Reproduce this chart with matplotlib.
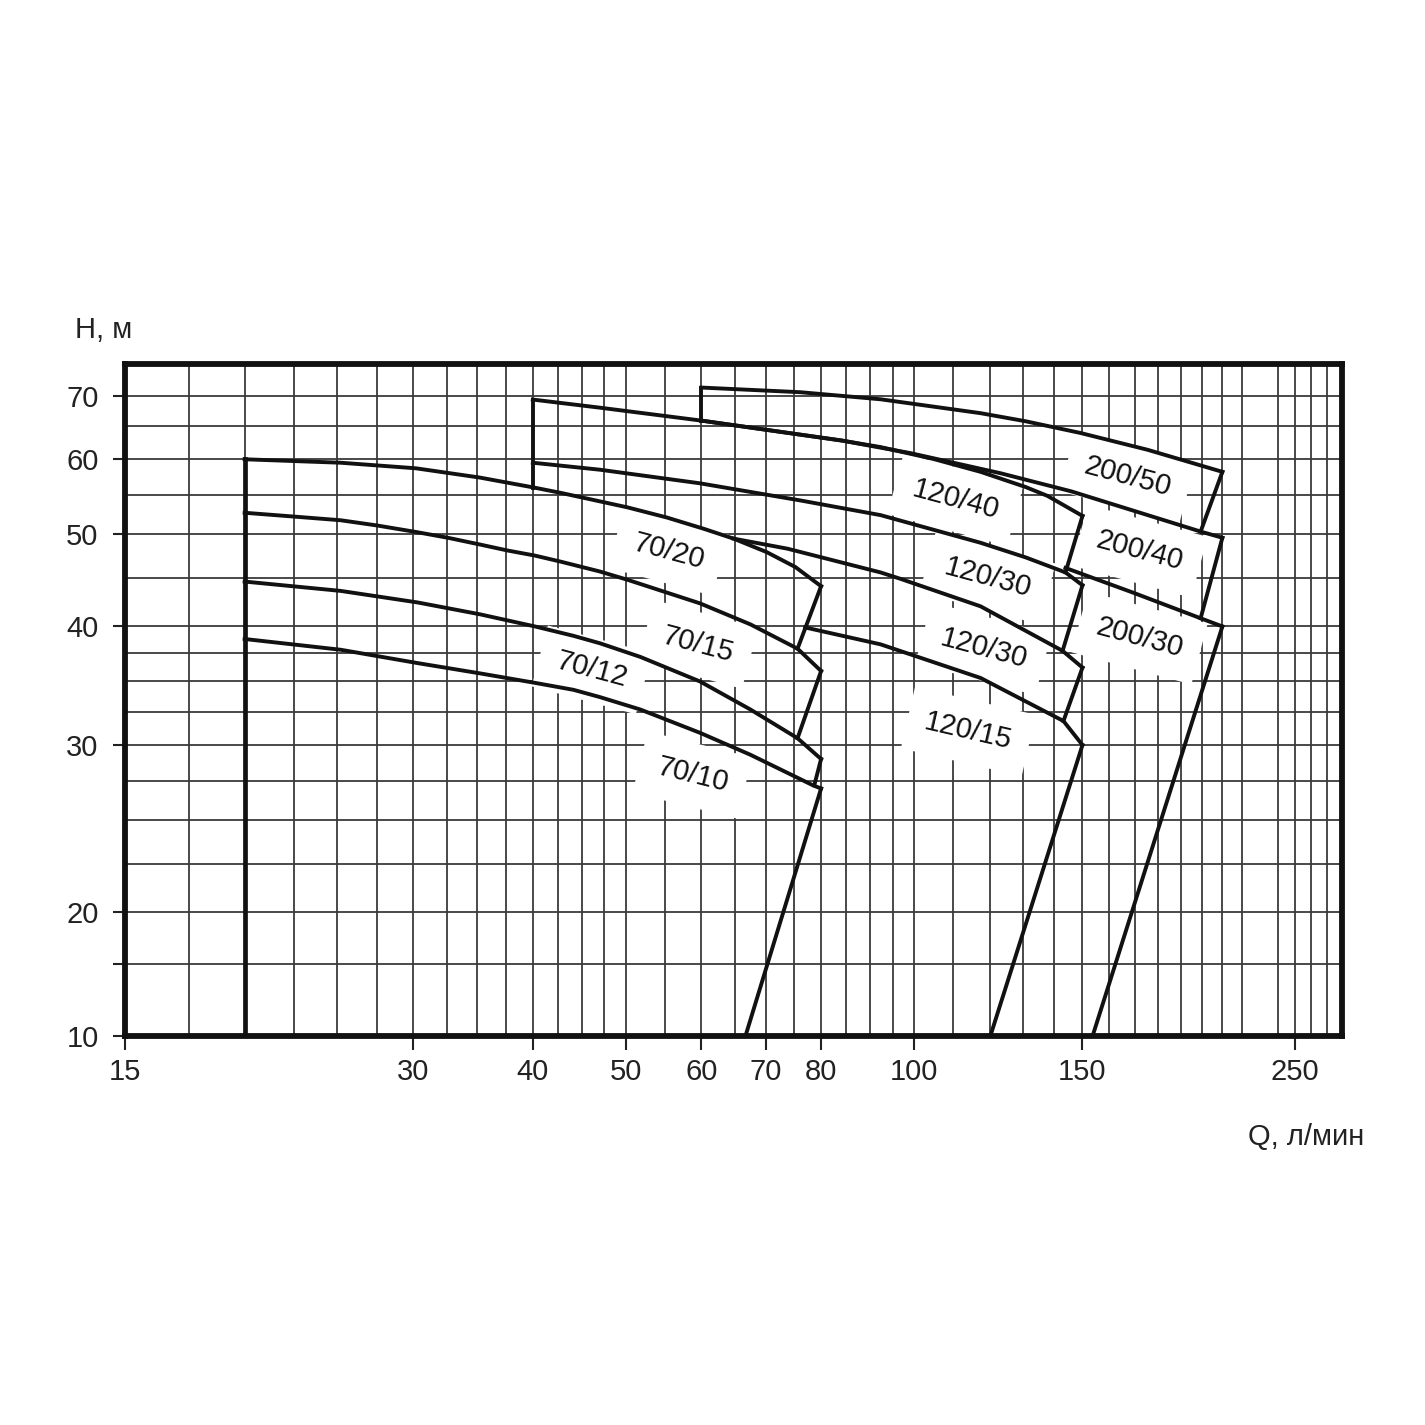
import numpy as np
import matplotlib
matplotlib.use("Agg")
import matplotlib.pyplot as plt

plt.rcParams['font.family'] = ['Liberation Sans', 'DejaVu Sans']

# ---------------- data (Q in l/min, H in m) ----------------
x_major = [15, 30, 40, 50, 60, 70, 80, 100, 150, 250]
x_minor = [17.5, 20, 22.5, 25, 27.5, 32.5, 35, 37.5, 42.5, 45, 47.5,
           55, 65, 75, 85, 90, 95, 110, 120, 130, 140, 160, 170, 180,
           190, 200, 210, 220, 240, 260, 270]
y_major = [10, 15, 20, 30, 40, 50, 60, 70]
y_major_labels = ['10', '', '20', '30', '40', '50', '60', '70']
y_minor = [22.5, 25, 27.5, 32.5, 35, 37.5, 45, 55, 65]

# pump 70 family
q_70_v = [20, 20]
h_70_v = [10, 60]
q_70_20 = [20, 25.2, 30.2, 35.2, 40.2, 42.8, 50.2, 55.2, 60.3, 64.8, 70.2, 75.2, 80]
h_70_20 = [60.0, 59.5, 58.7, 57.4, 56.0, 55.3, 53.4, 52.1, 50.7, 49.5, 47.9, 46.2, 44.1]
q_70_15 = [20, 22.6, 25.2, 27.5, 30.2, 32.6, 35.2, 37.6, 40.2, 42.8, 47.0, 50.2, 59.8, 67.5, 75.6, 80]
h_70_15 = [52.7, 52.2, 51.75, 51.1, 50.3, 49.6, 48.8, 48.1, 47.5, 46.8, 45.7, 44.8, 42.3, 40.2, 37.9, 35.9]
q_70_12 = [20, 25.2, 30.3, 35.2, 40.2, 44.1, 47.0, 51.8, 59.8, 67.5, 75.6, 80]
h_70_12 = [44.6, 43.6, 42.4, 41.2, 40.0, 39.1, 38.4, 37.15, 35.0, 32.7, 30.5, 29.0]
q_70_10 = [20, 25.2, 30.3, 35.2, 40.1, 44.1, 47.0, 51.8, 59.8, 67.5, 78.5, 80]
h_70_10 = [38.8, 37.8, 36.6, 35.7, 34.9, 34.3, 33.7, 32.7, 30.9, 29.3, 27.2, 27.0]
q_70_edge = [[80, 75.6], [80, 75.6], [80, 78.7], [80, 66.7]]
h_70_edge = [[44.1, 37.9], [35.9, 30.5], [29.0, 27.2], [27.0, 10]]

# pump 120 family
q_120_v = [40, 40]
h_120_v = [56.0, 69.35]
q_120_40 = [40, 47.0, 60, 84, 92.3, 104.8, 117.4, 130.8, 137.9, 150]
h_120_40 = [69.35, 68.0, 65.9, 62.8, 61.8, 60.05, 58.2, 56.1, 54.9, 52.3]
q_120_30a = [40, 47.0, 59.8, 76.1, 92.3, 117.4, 130.8, 144.0, 150]
h_120_30a = [59.5, 58.5, 56.6, 54.3, 52.4, 49.0, 47.3, 45.6, 44.2]
q_120_30b = [64.8, 73.8, 92.3, 96.8, 117.4, 143.0, 150]
h_120_30b = [49.5, 48.3, 45.6, 44.9, 42.0, 37.7, 36.2]
q_120_15 = [77.0, 92.3, 117.4, 143.3, 150]
h_120_15 = [39.9, 38.3, 35.3, 31.8, 30.0]
q_120_edge = [[150, 144], [150, 143], [150, 143.3], [150, 120.2]]
h_120_edge = [[52.3, 45.6], [44.2, 37.7], [36.2, 31.8], [30.0, 10]]

# pump 200 family
q_200_v = [60, 60]
h_200_v = [65.9, 71.4]
q_200_50 = [60, 76.1, 92.3, 117.4, 130.8, 149.3, 175.4, 210]
h_200_50 = [71.4, 70.6, 69.4, 67.1, 65.8, 63.95, 61.4, 58.2]
q_200_40 = [60, 84, 99.2, 123.2, 146.1, 199.3, 210]
h_200_40 = [65.9, 62.8, 60.9, 58.0, 55.5, 50.35, 49.6]
q_200_30 = [144, 169.6, 199.3, 210]
h_200_30 = [46.1, 43.4, 40.8, 40.0]
q_200_edge = [[210, 199.3], [210, 199.3], [210, 153.7]]
h_200_edge = [[58.2, 50.35], [49.6, 40.8], [40.0, 10]]

# curve labels
lab_text = ['70/20', '70/15', '70/12', '70/10', '120/40', '120/30', '120/30',
            '120/15', '200/50', '200/40', '200/30']
lab_q = [55.4, 59.5, 46.1, 58.7, 110.5, 119.4, 118.2, 114.0, 167.2, 172.1, 172.1]
lab_h = [48.0, 38.3, 36.0, 27.9, 54.4, 45.0, 37.9, 31.0, 57.5, 48.0, 38.9]
lab_rot = [-15, -15, -15, -14, -15, -15, -15, -13, -15, -15, -15]


# ---------------- y scale: log above 20 m, compressed below ----------------
def _fwd(h):
    h = np.asarray(h, dtype=float)
    r = np.log(np.maximum(h, 1e-6) / 20.0)
    return np.where(r >= 0, r * 412.0, r * 178.5)


def _inv(v):
    v = np.asarray(v, dtype=float)
    with np.errstate(over='ignore'):
        return np.where(v >= 0, 20.0 * np.exp(v / 412.0), 20.0 * np.exp(v / 178.5))


fig = plt.figure(figsize=(14.25, 14.25), dpi=100)
fig.patch.set_facecolor('white')
ax = fig.add_axes([125 / 1425, 1 - 1036 / 1425, (1342 - 125) / 1425, (1036 - 364) / 1425])

ax.set_xscale('log')
ax.set_yscale('function', functions=(_fwd, _inv))
ax.set_xlim(15, 280)
ax.set_ylim(10, 75.6)

ax.set_xticks(x_major)
ax.set_xticklabels([str(v) for v in x_major])
ax.set_xticks(x_minor, minor=True)
ax.set_yticks(y_major)
ax.set_yticklabels(y_major_labels)
ax.set_yticks(y_minor, minor=True)
ax.xaxis.set_minor_formatter(matplotlib.ticker.NullFormatter())
ax.yaxis.set_minor_formatter(matplotlib.ticker.NullFormatter())

ax.set_axisbelow(True)
ax.grid(True, which='both', color='#3a3a3a', linewidth=1.3)
ax.tick_params(which='minor', length=0)
ax.tick_params(axis='x', which='major', length=10, width=1.5, pad=6,
               labelsize=21, colors='#222222')
ax.tick_params(axis='y', which='major', length=9, width=1.5, pad=10,
               labelsize=21, colors='#222222')
for s in ax.spines.values():
    s.set_linewidth(4.2)
    s.set_color('#111111')
    s.set_zorder(5)

lw = 2.8
lc = '#111111'
curves = [
    (q_70_20, h_70_20), (q_70_15, h_70_15), (q_70_12, h_70_12), (q_70_10, h_70_10),
    (q_120_v, h_120_v), (q_120_40, h_120_40), (q_120_30a, h_120_30a), (q_120_30b, h_120_30b), (q_120_15, h_120_15),
    (q_200_v, h_200_v), (q_200_50, h_200_50), (q_200_40, h_200_40), (q_200_30, h_200_30),
]
for q, h in curves:
    ax.plot(q, h, color=lc, linewidth=lw, solid_joinstyle='round', zorder=3)
for qs, hs in [(q_70_edge, h_70_edge), (q_120_edge, h_120_edge), (q_200_edge, h_200_edge)]:
    for q, h in zip(qs, hs):
        ax.plot(q, h, color=lc, linewidth=lw, zorder=3)
ax.plot(q_70_v, h_70_v, color=lc, linewidth=3.4, zorder=3)

for t, q, h, r in zip(lab_text, lab_q, lab_h, lab_rot):
    ax.text(q, h, t, rotation=r, rotation_mode='anchor', ha='center', va='center',
            fontsize=21, color='#111111', zorder=2.5,
            bbox=dict(boxstyle='square,pad=0.6', fc='white', ec='none'))

fig.text(75 / 1425, 1 - 338 / 1425, 'H, м', fontsize=21, color='#222222',
         ha='left', va='baseline')
fig.text(1248 / 1425, 1 - 1145 / 1425, 'Q, л/мин', fontsize=21, color='#222222',
         ha='left', va='baseline')

fig.savefig('out.png', dpi=100, facecolor='white')
